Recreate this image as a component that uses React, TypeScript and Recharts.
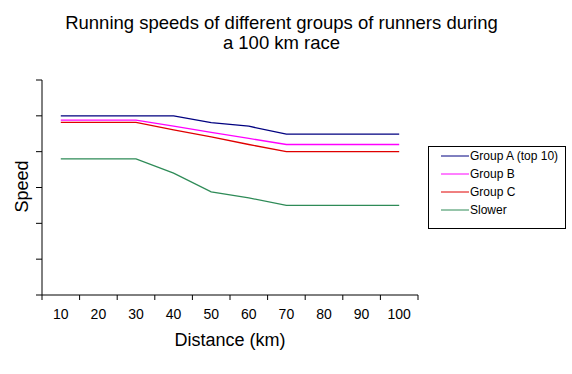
import React from "react";
import { LineChart, Line, XAxis, YAxis, Legend } from "recharts";

const distances = [10, 20, 30, 40, 50, 60, 70, 80, 90, 100];
const tickLabels = ["10", "20", "30", "40", "50", "60", "70", "80", "90", "100"];
const boundaryTicks = [5, 15, 25, 35, 45, 55, 65, 75, 85, 95, 105];
const groupA = [5, 5, 5, 5, 4.81, 4.71, 4.49, 4.49, 4.49, 4.49];
const groupB = [4.88, 4.88, 4.88, 4.71, 4.54, 4.37, 4.2, 4.2, 4.2, 4.2];
const groupC = [4.82, 4.82, 4.82, 4.61, 4.41, 4.2, 4.0, 4.0, 4.0, 4.0];
const slower = [3.8, 3.8, 3.8, 3.4, 2.88, 2.71, 2.5, 2.5, 2.5, 2.5];
const yTicks = [0, 1, 2, 3, 4, 5, 6];

const data = distances.map((km, i) => ({
  km,
  a: groupA[i],
  b: groupB[i],
  c: groupC[i],
  s: slower[i],
}));

const FONT = "Arial, 'Liberation Sans', sans-serif";
const HALF_BAND = 18.8;

const XTick = (props: any) => {
  const { x, y, index } = props;
  if (index >= tickLabels.length) return <g />;
  return (
    <text x={x + HALF_BAND} y={y + 17} textAnchor="middle" fontFamily={FONT} fontSize={14} fill="#000">
      {tickLabels[index]}
    </text>
  );
};

const LegendBox = (props: any) => {
  const { payload } = props;
  return (
    <div
      style={{
        width: 136,
        height: 81,
        border: "1px solid #000",
        background: "#fff",
        fontFamily: FONT,
        fontSize: 12,
        position: "relative",
      }}
    >
      <svg width={136} height={81} style={{ position: "absolute", left: 0, top: 0 }}>
        {(payload || []).map((p: any, i: number) => (
          <g key={p.value}>
            <line x1={12} x2={40} y1={9 + i * 18} y2={9 + i * 18} stroke={p.color} strokeWidth={1} />
            <text x={41} y={13 + i * 18} fontFamily={FONT} fontSize={12} fill="#000">
              {p.value}
            </text>
          </g>
        ))}
      </svg>
    </div>
  );
};

export default function App() {
  return (
    <div style={{ position: "absolute", left: 0, top: 0, width: 572, height: 374, background: "#fff" }}>
      <div
        style={{
          position: "absolute",
          left: 0,
          top: 13,
          width: 563,
          textAlign: "center",
          fontFamily: FONT,
          fontSize: 18.5,
          lineHeight: "20px",
          color: "#000",
          zIndex: 2,
        }}
      >
        Running speeds of different groups of runners during
        <br />a 100 km race
      </div>
      <LineChart
        width={572}
        height={374}
        data={data}
        margin={{ top: 80, right: 16, left: 0, bottom: 0 }}
      >
        <XAxis
          dataKey="km"
          type="number"
          domain={[5, 105]}
          ticks={boundaryTicks}
          interval={0}
          height={79}
          tickSize={5}
          axisLine={{ stroke: "#000" }}
          tickLine={{ stroke: "#000" }}
          tick={<XTick />}
          label={{
            content: (p: any) => {
              const vb = p.viewBox || {};
              return (
                <text
                  x={vb.x + vb.width / 2}
                  y={vb.y + 51}
                  textAnchor="middle"
                  fontFamily={FONT}
                  fontSize={18}
                  fill="#000"
                >
                  Distance (km)
                </text>
              );
            },
          }}
        />
        <YAxis
          type="number"
          domain={[0, 6]}
          ticks={yTicks}
          interval={0}
          width={42}
          tickSize={6}
          axisLine={{ stroke: "#000" }}
          tickLine={{ stroke: "#000" }}
          tick={() => <g />}
          label={{
            content: (p: any) => {
              const vb = p.viewBox || {};
              const cx = vb.x + 28;
              const cy = vb.y + vb.height / 2 - 1;
              return (
                <text
                  x={cx}
                  y={cy}
                  transform={`rotate(-90 ${cx} ${cy})`}
                  textAnchor="middle"
                  fontFamily={FONT}
                  fontSize={18}
                  fill="#000"
                >
                  Speed
                </text>
              );
            },
          }}
        />
        <Legend
          layout="vertical"
          align="right"
          verticalAlign="middle"
          content={<LegendBox />}
          wrapperStyle={{ position: "absolute", left: 428, top: 146, width: 138, height: 83 }}
        />
        <Line dataKey="a" name="Group A  (top 10)" stroke="#000080" strokeWidth={1.3} dot={false} isAnimationActive={false} />
        <Line dataKey="b" name="Group B" stroke="#FF00FF" strokeWidth={1.3} dot={false} isAnimationActive={false} />
        <Line dataKey="c" name="Group C" stroke="#E00000" strokeWidth={1.3} dot={false} isAnimationActive={false} />
        <Line dataKey="s" name="Slower" stroke="#2E8B57" strokeWidth={1.3} dot={false} isAnimationActive={false} />
      </LineChart>
    </div>
  );
}
